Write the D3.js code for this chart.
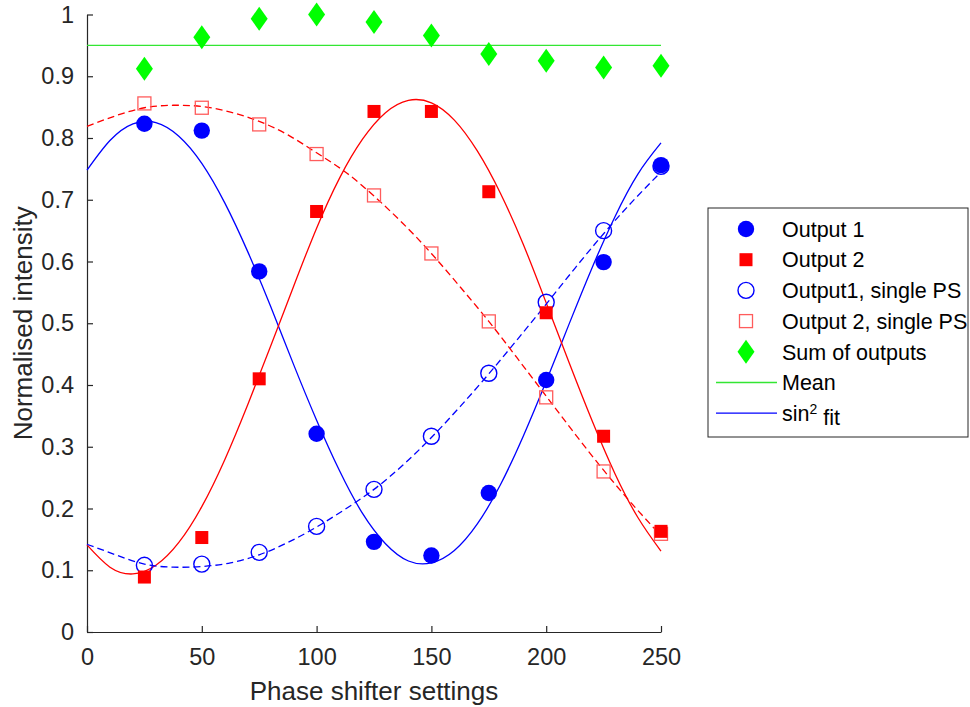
<!DOCTYPE html>
<html>
<head>
<meta charset="utf-8">
<script src="https://cdn.jsdelivr.net/npm/d3@7"></script>
<style>
  body { margin: 0; background: #fff; }
  svg { display: block; font-family: "Liberation Sans", Arial, Helvetica, sans-serif; }
</style>
</head>
<body>
<svg id="chart" width="970" height="707"></svg>
<script>
// measured points (phase shifter setting vs normalised intensity)
const settings = [25, 50, 75, 100, 125, 150, 175, 200, 225, 250]
const output1 = [0.823, 0.812, 0.584, 0.321, 0.146, 0.124, 0.225, 0.408, 0.599, 0.756]
const output2 = [0.089, 0.153, 0.410, 0.681, 0.843, 0.843, 0.713, 0.517, 0.317, 0.163]
const output1Single = [0.108, 0.110, 0.129, 0.171, 0.231, 0.317, 0.419, 0.534, 0.650, 0.754]
const output2Single = [0.856, 0.849, 0.822, 0.774, 0.707, 0.613, 0.503, 0.380, 0.260, 0.159]
const sumOutputs = [0.912, 0.963, 0.993, 1.000, 0.988, 0.966, 0.936, 0.925, 0.914, 0.917]
const meanValue = 0.95

// fitted curves
const fitX = [0, 10, 20, 30, 40, 50, 60, 70, 80, 90, 100, 110, 120, 130, 140, 150, 160, 170, 180, 190, 200, 210, 220, 230, 240, 250]
const fit1 = [0.748, 0.796, 0.823, 0.825, 0.803, 0.759, 0.695, 0.616, 0.527, 0.433, 0.343, 0.261, 0.192, 0.143, 0.115, 0.112, 0.132, 0.175, 0.238, 0.317, 0.406, 0.499, 0.590, 0.673, 0.742, 0.792]
const fit2 = [0.141, 0.105, 0.094, 0.108, 0.145, 0.203, 0.279, 0.368, 0.463, 0.560, 0.654, 0.735, 0.798, 0.841, 0.861, 0.857, 0.829, 0.779, 0.711, 0.628, 0.533, 0.436, 0.342, 0.256, 0.185, 0.131]
const dashX = [0, 12.5, 25, 37.5, 50, 62.5, 75, 87.5, 100, 112.5, 125, 137.5, 150, 162.5, 175, 187.5, 200, 212.5, 225, 237.5, 250]
const fit1Single = [0.142, 0.125, 0.110, 0.105, 0.106, 0.112, 0.125, 0.145, 0.170, 0.199, 0.231, 0.270, 0.315, 0.365, 0.418, 0.474, 0.531, 0.589, 0.645, 0.697, 0.745]
const fit2Single = [0.819, 0.836, 0.849, 0.853, 0.851, 0.842, 0.827, 0.805, 0.776, 0.745, 0.706, 0.662, 0.613, 0.559, 0.503, 0.443, 0.382, 0.321, 0.262, 0.207, 0.156]

const xTicks = [0, 50, 100, 150, 200, 250]
const yTicks = [0, 0.1, 0.2, 0.3, 0.4, 0.5, 0.6, 0.7, 0.8, 0.9, 1]

const legendLabels = ['Output 1', 'Output 2', 'Output1, single PS', 'Output 2, single PS', 'Sum of outputs', 'Mean', 'sin']

const axisColor = '#262626'
const blue = '#0000ff', red = '#ff0000', green = '#00ff00'

const svg = d3.select('#chart')

const x = d3.scaleLinear().domain([0, 250]).range([87, 661])
const y = d3.scaleLinear().domain([0, 1]).range([632, 14.5])

// axes
const xAxis = d3.axisBottom(x).tickValues(xTicks).tickFormat(d3.format('d'))
  .tickSizeInner(-6).tickSizeOuter(0).tickPadding(16)
const yAxis = d3.axisLeft(y).tickValues(yTicks).tickFormat(d => d === 0 || d === 1 ? d : d3.format('.1f')(d))
  .tickSizeInner(-6).tickSizeOuter(0).tickPadding(13)

const gx = svg.append('g').attr('transform', `translate(0,${y(0)})`).call(xAxis)
const gy = svg.append('g').attr('transform', `translate(${x(0)},0)`).call(yAxis)
for (const g of [gx, gy]) {
  g.select('.domain').attr('stroke', axisColor).attr('stroke-width', 1.2)
  g.selectAll('.tick line').attr('stroke', axisColor).attr('stroke-width', 1.2)
  g.selectAll('.tick text').attr('fill', axisColor).style('font-size', '23.5px').style('font-family', null)
}

// axis labels
svg.append('text')
  .attr('x', (x(0) + x(250)) / 2).attr('y', 700)
  .attr('text-anchor', 'middle').attr('fill', axisColor)
  .style('font-size', '26px')
  .text('Phase shifter settings')

svg.append('text')
  .attr('transform', `translate(32,${(y(0) + y(1)) / 2}) rotate(-90)`)
  .attr('text-anchor', 'middle').attr('fill', axisColor)
  .style('font-size', '26px')
  .text('Normalised intensity')

// lines
const line = d3.line().x(d => x(d[0])).y(d => y(d[1])).curve(d3.curveNatural)

svg.append('path').datum([[0, meanValue], [250, meanValue]])
  .attr('d', line).attr('fill', 'none').attr('stroke', '#33e633').attr('stroke-width', 1.3)

svg.append('path').datum(d3.zip(fitX, fit1))
  .attr('d', line).attr('fill', 'none').attr('stroke', blue).attr('stroke-width', 1.3)
svg.append('path').datum(d3.zip(fitX, fit2))
  .attr('d', line).attr('fill', 'none').attr('stroke', red).attr('stroke-width', 1.3)
svg.append('path').datum(d3.zip(dashX, fit1Single))
  .attr('d', line).attr('fill', 'none').attr('stroke', blue).attr('stroke-width', 1.3)
  .attr('stroke-dasharray', '7,4')
svg.append('path').datum(d3.zip(dashX, fit2Single))
  .attr('d', line).attr('fill', 'none').attr('stroke', red).attr('stroke-width', 1.3)
  .attr('stroke-dasharray', '7,4')

// marker shapes
const diamond = 'M0,-12L8.5,0L0,12L-8.5,0Z'
function drawMarker(g, kind) {
  if (kind === 'dot') g.append('circle').attr('r', 8.2).attr('fill', blue)
  if (kind === 'sq') g.append('rect').attr('x', -6.5).attr('y', -6.5).attr('width', 13).attr('height', 13).attr('fill', red)
  if (kind === 'ring') g.append('circle').attr('r', 8).attr('fill', 'none').attr('stroke', blue).attr('stroke-width', 1.4)
  if (kind === 'box') g.append('rect').attr('x', -6.5).attr('y', -6.5).attr('width', 13).attr('height', 13)
    .attr('fill', 'none').attr('stroke', '#ff5c5c').attr('stroke-width', 1.3)
  if (kind === 'dia') g.append('path').attr('d', diamond).attr('fill', green)
}

const series = [
  [output1Single, 'ring'],
  [output2Single, 'box'],
  [output1, 'dot'],
  [output2, 'sq'],
  [sumOutputs, 'dia'],
]
series.forEach(([vals, kind]) => {
  svg.append('g').selectAll('g')
    .data(d3.zip(settings, vals))
    .enter().append('g')
    .attr('transform', d => `translate(${x(d[0])},${y(d[1])})`)
    .each(function () { drawMarker(d3.select(this), kind) })
})

// legend
const lg = svg.append('g')
lg.append('rect').attr('x', 708).attr('y', 208).attr('width', 260).attr('height', 229)
  .attr('fill', '#fff').attr('stroke', axisColor).attr('stroke-width', 1)
const kinds = ['dot', 'sq', 'ring', 'box', 'dia', 'mean', 'fit']
kinds.forEach((k, i) => {
  const cy = 229 + i * 30.7
  const g = lg.append('g').attr('transform', `translate(746,${cy})`)
  if (k === 'mean' || k === 'fit') {
    g.append('line').attr('x1', -30).attr('x2', 31)
      .attr('stroke', k === 'mean' ? '#33e633' : blue).attr('stroke-width', 1.3)
  } else {
    drawMarker(g, k)
  }
  const t = lg.append('text').attr('x', 782).attr('y', cy).attr('dy', '0.36em')
    .attr('fill', '#000').style('font-size', '21.5px').text(legendLabels[i])
  if (k === 'fit') {
    t.append('tspan').attr('dy', '-0.5em').style('font-size', '14px').text('2')
    t.append('tspan').attr('dy', '0.5em').text(' fit')
  }
})
</script>
</body>
</html>
